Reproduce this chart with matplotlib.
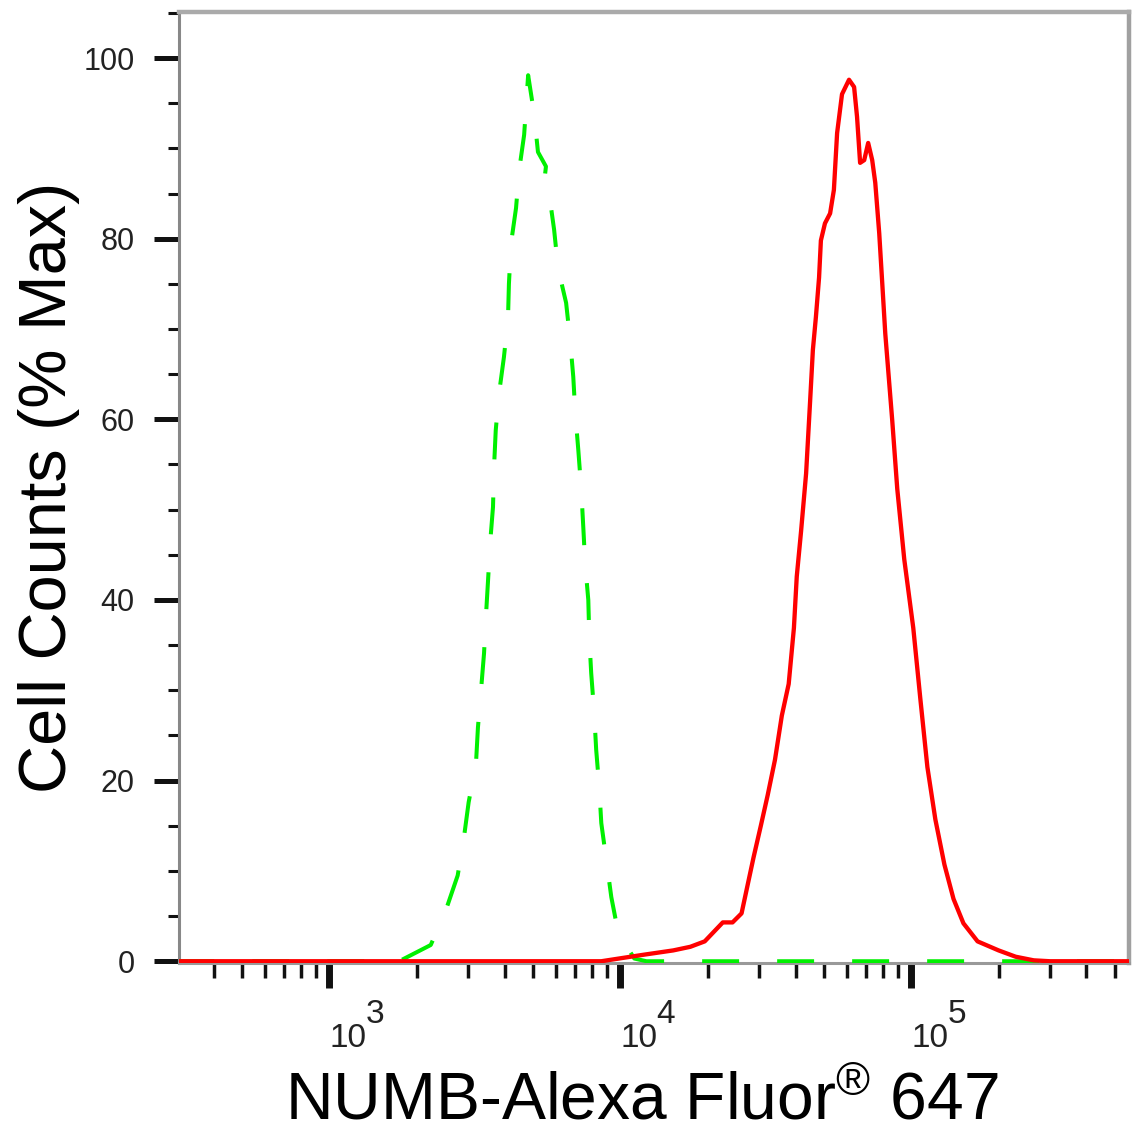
import numpy as np
import matplotlib.pyplot as plt
from matplotlib.ticker import MultipleLocator, LogLocator, NullFormatter

plt.rcParams['font.family'] = ['Liberation Sans', 'DejaVu Sans']
plt.rcParams['mathtext.fontset'] = 'custom'
plt.rcParams['mathtext.rm'] = 'Liberation Sans'
plt.rcParams['mathtext.it'] = 'Liberation Sans:italic'
plt.rcParams['mathtext.bf'] = 'Liberation Sans:bold'
plt.rcParams['lines.scale_dashes'] = False

## data

# isotype control (green dashed)
control_x = [300, 1560, 1760, 2230, 2510, 2760, 2900, 3010, 3190, 3240,
             3320, 3400, 3450, 3510, 3570, 3650, 3680, 3730, 3830, 3980,
             4110, 4140, 4210, 4380, 4490, 4670, 4820, 5050, 5210, 5550,
             5470, 5690, 5920, 6110, 6510, 6720, 6890, 7000, 7170, 7340,
             7460, 7570, 7760, 7820, 7940, 8130, 8260, 8460, 8600, 8950,
             9310, 9840, 11170, 12300, 560000]
control_y = [0, 0, 0.1, 1.8, 5.6, 9.5, 13.7, 17.6, 21.9, 25.9,
             30, 34.1, 38.1, 42.2, 46.4, 50.3, 54.7, 58.8, 62.9, 66.9,
             71.2, 75, 79.5, 83.4, 87.6, 91.5, 98.1, 93.9, 89.6, 88.0,
             86.2, 85, 81, 76.7, 72.9, 68.8, 64.7, 60.7, 56.6, 52.2,
             48, 44, 40, 35.9, 31.9, 27.5, 23.4, 19.3, 15.3, 11.2,
             7.1, 3.1, 0.3, 0, 0]

# NUMB stained cells (red)
numb_x = [300, 8600, 11900, 15200, 17400, 19500, 22500, 24300, 26100, 27200,
          28700, 30400, 32100, 34000, 35900, 37900, 39500, 40400, 41800, 43500,
          44900, 45900, 47000, 48200, 48900, 50500, 52600, 54200, 55600, 57800,
          61100, 63600, 65100, 66700, 68900, 71100, 73400, 75200, 77600, 79500,
          81400, 84000, 86000, 89500, 94600, 101600, 107400, 113600, 121000, 130000,
          139700, 151100, 169000, 199600, 228500, 263600, 300000, 560000]
numb_y = [0, 0, 0.7, 1.2, 1.6, 2.2, 4.3, 4.3, 5.3, 8,
          11.5, 15, 18.4, 22.3, 27.2, 30.7, 36.9, 42.6, 47.6, 54,
          62, 67.7, 71.3, 75.7, 79.8, 81.7, 82.8, 85.4, 91.7, 96,
          97.6, 96.8, 93.5, 88.4, 88.7, 90.6, 88.7, 86.2, 80.6, 75,
          69.5, 64, 59.9, 52.3, 44.5, 36.9, 29.1, 21.5, 15.7, 10.7,
          6.9, 4.2, 2.2, 1.2, 0.5, 0.1, 0, 0]

x_major = [1e3, 1e4, 1e5]
y_major = [0, 20, 40, 60, 80, 100]

## plot

fig = plt.figure(figsize=(11.32, 11.33), dpi=100)
ax = fig.add_axes([0.1581, 0.1500, 0.8392, 0.8394])

ax.plot(control_x, control_y, color='#00f000', lw=2.9,
        ls=(0, (26.6, 27.4)), zorder=3)
ax.plot(numb_x, numb_y, color='#ff0000', lw=3.1, zorder=4)

ax.set_xscale('log')
ax.set_xlim(304, 5.6e5)
ax.set_ylim(-0.2, 105.1)

# decade labels drawn as "10" plus a full size exponent
ax.set_xticks(x_major, labels=['10' for v in x_major])
ax.xaxis.set_minor_locator(LogLocator(base=10, subs=np.arange(2, 10), numticks=100))
ax.xaxis.set_minor_formatter(NullFormatter())
ax.set_yticks(y_major)
ax.yaxis.set_minor_locator(MultipleLocator(5))

ax.tick_params(axis='both', which='both', direction='out', color='#111111',
               labelcolor='#222222')
ax.tick_params(axis='x', which='major', length=18, width=5, pad=25, labelsize=24)
ax.tick_params(axis='x', which='minor', length=11, width=2.5)
ax.tick_params(axis='y', which='major', length=18, width=3.6, pad=14, labelsize=22)
ax.tick_params(axis='y', which='minor', length=8, width=2.2)
for lab in ax.get_xticklabels():
    lab.set_horizontalalignment('left')

for v in x_major:
    ax.annotate(str(int(round(np.log10(v)))), xy=(v, 0),
                xycoords=('data', 'axes fraction'), xytext=(26, -43),
                textcoords='offset points', ha='left', va='baseline',
                fontsize=24, color='#222222', annotation_clip=False)

# spines
ax.spines['left'].set_color('#888888')
ax.spines['left'].set_linewidth(2.2)
ax.spines['bottom'].set_color('#999999')
ax.spines['bottom'].set_linewidth(2.2)
ax.spines['top'].set_color('#aaaaaa')
ax.spines['top'].set_linewidth(3.2)
ax.spines['right'].set_color('#a0a0a0')
ax.spines['right'].set_linewidth(3.2)

ax.set_xlabel(r'NUMB-Alexa Fluor$^{\circledR}$ 647', fontsize=47.5, labelpad=13)
ax.xaxis.label.set_x(0.487)
ax.set_ylabel('Cell Counts (% Max)', fontsize=48, labelpad=2)

fig.savefig('out.png', dpi=100)
